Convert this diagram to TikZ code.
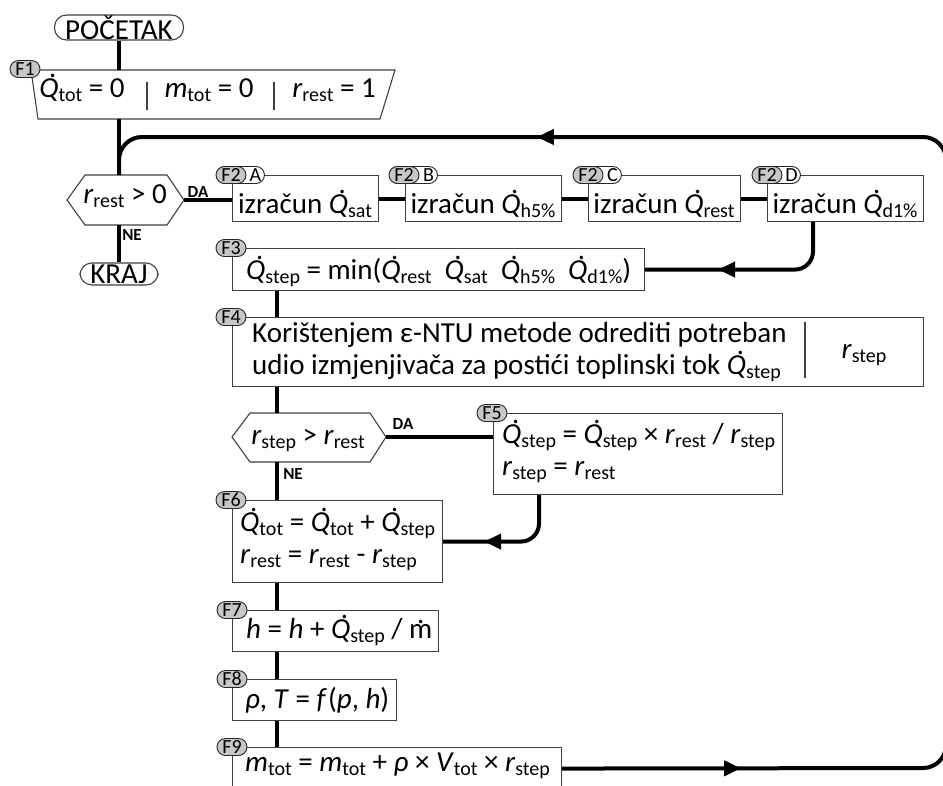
\documentclass[tikz,border=0pt]{standalone}
\usepackage{fontspec}
\setmainfont{Carlito}
\usetikzlibrary{arrows.meta,decorations.markings}

\newcommand\fMain{\fontsize{29}{32}\selectfont}
\newcommand\fSubsz{\fontsize{20}{22}\selectfont}
\newcommand\fBadge{\fontsize{20}{22}\selectfont}
\newcommand\fLab{\fontsize{17}{19}\selectfont\bfseries}
\newcommand\Sub[1]{\raisebox{-4pt}{\fSubsz\upshape #1}}
\newcommand\Qd{\textit{\ooalign{Q\cr\hidewidth\kern0.3em\raisebox{0.66em}{.}\hidewidth\cr}}}
\newcommand\Qs[1]{\Qd\Sub{#1}}
\newcommand\Rs[1]{\textit{r}\Sub{#1}}
\newcommand\Ms[1]{\textit{m}\Sub{#1}}
\newcommand\mdt{\ooalign{m\cr\hidewidth\raisebox{0.5em}{.}\hidewidth\cr}}

\begin{document}
\begin{tikzpicture}[x=1pt,y=-1pt,
  shapeline/.style={draw=black!75, line width=1.1pt, fill=white},
  box/.style={shapeline, rectangle, anchor=north west, inner sep=0pt},
  flow/.style={line width=4pt, draw=black},
  thinsep/.style={draw=black!75, line width=1.1pt},
  pill/.style={shapeline, rounded corners=12pt, inner sep=0pt, font=\fMain},
  badge/.style={draw=black!85, line width=0.9pt, fill=black!22, rounded corners=8.5pt, minimum width=30pt, minimum height=17pt, inner sep=0pt, font=\fBadge},
  badgew/.style={draw=black!85, line width=0.9pt, fill=white, rounded corners=8.5pt, minimum width=48pt, minimum height=17pt, inner sep=0pt, anchor=west},
  btxt/.style={font=\fBadge, inner sep=0pt},
  txt/.style={font=\fMain, inner sep=0pt, anchor=base west},
  mtxt/.style={font=\fMain, inner sep=0pt, anchor=base west, align=left},
  ctxt/.style={font=\fMain, inner sep=0pt, anchor=base},
  lab/.style={font=\fLab, inner sep=0pt},
  midarrow/.style={postaction={decorate, decoration={markings, mark=at position #1 with {\arrow{Triangle[length=17pt,width=15pt]}}}}},
]
\useasboundingbox (0,0) rectangle (943,785);
\clip (0,0) rectangle (943,785);
\coordinate (col) at (277,0);
\coordinate (dcol) at (813,0);
\coordinate (fcol) at (539,0);

% start / end
\node[pill, minimum width=129pt, minimum height=25pt] (start) at (119,27.5) {POČETAK};
\node[pill, minimum width=78pt, minimum height=22pt] (end) at (119,274) {KRAJ};

% F1
\draw[shapeline] (31,70) -- (395,70) -- (380,119) -- (38,119) -- cycle;
\coordinate (F1n) at (119,70);
\coordinate (F1s) at (119,119);
\node[ctxt] (F1a) at (82,97) {\Qs{tot} = 0};
\node[ctxt] (F1b) at (209,97) {\Ms{tot} = 0};
\node[ctxt] (F1c) at (334,97) {\Rs{rest} = 1};
\draw[thinsep] (147,82) -- (147,110);
\draw[thinsep] (274,82) -- (274,110);

% decision 1
\draw[shapeline] (67,200) -- (85,175) -- (167,175) -- (184,200) -- (167,225) -- (85,225) -- cycle;
\coordinate (d1n) at (119,175);
\coordinate (d1e) at (184,200);
\coordinate (d1s) at (119,225);
\node[ctxt] (d1t) at (125,203) {\Rs{rest} > 0};

% F2 boxes
\node[box, minimum width=146pt, minimum height=46pt] (A) at (232,175) {};
\node[box, minimum width=156pt, minimum height=46pt] (B) at (405,175) {};
\node[box, minimum width=152pt, minimum height=46pt] (C) at (588,175) {};
\node[box, minimum width=156pt, minimum height=46pt] (D) at (767,175) {};
\node[ctxt] (At) at (305,213) {izračun \Qs{sat}};
\node[ctxt] (Bt) at (483,213) {izračun \Qs{h5\%}};
\node[ctxt] (Ct) at (664,213) {izračun \Qs{rest}};
\node[ctxt] (Dt) at (845,213) {izračun \Qs{d1\%}};

% F3
\node[box, minimum width=412pt, minimum height=42pt] (F3) at (232,248) {};
\node[txt] (F3t) at (246,279) {\Qs{step} = min(\Qs{rest}\hspace{0.45em}\Qs{sat}\hspace{0.45em}\Qs{h5\%}\hspace{0.45em}\Qs{d1\%})};

% F4
\node[box, minimum width=691pt, minimum height=69pt] (F4) at (232,317) {};
\node[mtxt] (F4t) at (252,374) {Korištenjem ε-NTU metode odrediti potreban\\udio izmjenjivača za postići toplinski tok \Qs{step}};
\draw[thinsep] (805,322) -- (805,378);
\node[ctxt] (F4r) at (864,358) {\Rs{step}};

% decision 2
\draw[shapeline] (232,437) -- (250,413) -- (370,413) -- (386,437) -- (370,462) -- (250,462) -- cycle;
\coordinate (d2n) at (277,413);
\coordinate (d2e) at (386,437);
\coordinate (d2s) at (277,462);
\node[ctxt] (d2t) at (308,444) {\Rs{step} > \Rs{rest}};

% F5
\node[box, minimum width=289pt, minimum height=81pt] (F5) at (493,413) {};
\node[mtxt] (F5t) at (502,475) {\Qs{step} = \Qs{step} × \Rs{rest} / \Rs{step}\\\Rs{step} = \Rs{rest}};

% F6
\node[box, minimum width=210pt, minimum height=82pt] (F6) at (232,500) {};
\node[mtxt] (F6t) at (240,563) {\Qs{tot} = \Qs{tot} + \Qs{step}\\\Rs{rest} = \Rs{rest} - \Rs{step}};

% F7 F8 F9
\node[box, minimum width=206pt, minimum height=41pt] (F7) at (232,610) {};
\node[txt] (F7t) at (246,638) {\textit{h} = \textit{h} + \Qs{step} / \mdt};
\node[box, minimum width=164pt, minimum height=41pt] (F8) at (232,679) {};
\node[txt] (F8t) at (245,708) {\textit{ρ}, \textit{T} = \textit{f}\kern0.04em(\textit{p}, \textit{h})};
\node[box, minimum width=329pt, minimum height=42pt] (F9) at (232,747) {};
\node[txt] (F9t) at (245,771) {\Ms{tot} = \Ms{tot} + \textit{ρ} × \textit{V}\Sub{tot} × \Rs{step}};

% labels
\node[lab] (da1) at (198,192) {DA};
\node[lab] (ne1) at (132,235) {NE};
\node[lab] (da2) at (403,424) {DA};
\node[lab] (ne2) at (293,474) {NE};

% connectors
\draw[flow] (start.south) -- (F1n);
\draw[flow] (F1s) -- (d1n);
\draw[flow] (d1s) -- (end.north);
\draw[flow] (d1e) -- (d1e -| A.west);
\draw[flow] (A.east) -- (B.west);
\draw[flow] (B.east) -- (C.west);
\draw[flow] (C.east) -- (D.west);
\draw[flow, rounded corners=18pt, midarrow=-73pt] (D.south -| dcol) |- (F3.east);
\draw[flow] (F3.south -| col) -- (F4.north -| col);
\draw[flow] (F4.south -| col) -- (d2n);
\draw[flow] (d2s) -- (F6.north -| col);
\draw[flow] (d2e) -- (d2e -| F5.west);
\draw[flow, rounded corners=18pt, midarrow=-41pt] (F5.south -| fcol) |- (F6.east);
\draw[flow] (F6.south -| col) -- (F7.north -| col);
\draw[flow] (F7.south -| col) -- (F8.north -| col);
\draw[flow] (F8.south -| col) -- (F9.north -| col);
\coordinate (lbr) at (946,768);
\coordinate (ltr) at (946,137);
\coordinate (ltl) at (119,137);
\draw[flow, rounded corners=23pt, midarrow=179pt, midarrow=-446pt] (F9.east) -- (lbr) -- (ltr) -- (ltl) -- (d1n);

% badges
\node[badge] (bF1) at (25,69) {F1};
\node[badgew] (wA) at (216,175) {};
\node[btxt] (lA) at (255.5,175) {A};
\node[badge] (bA) at (231,175) {F2};
\node[badgew] (wB) at (389,175) {};
\node[btxt] (lB) at (428.5,175) {B};
\node[badge] (bB) at (404,175) {F2};
\node[badgew] (wC) at (573,175) {};
\node[btxt] (lC) at (612.5,175) {C};
\node[badge] (bC) at (588,175) {F2};
\node[badgew] (wD) at (752,175) {};
\node[btxt] (lD) at (791.5,175) {D};
\node[badge] (bD) at (767,175) {F2};
\node[badge] (bF3) at (231,248) {F3};
\node[badge] (bF4) at (231,317) {F4};
\node[badge] (bF5) at (492,413) {F5};
\node[badge] (bF6) at (231,500) {F6};
\node[badge] (bF7) at (232,610) {F7};
\node[badge] (bF8) at (232,679) {F8};
\node[badge] (bF9) at (232,747) {F9};
\end{tikzpicture}
\end{document}
